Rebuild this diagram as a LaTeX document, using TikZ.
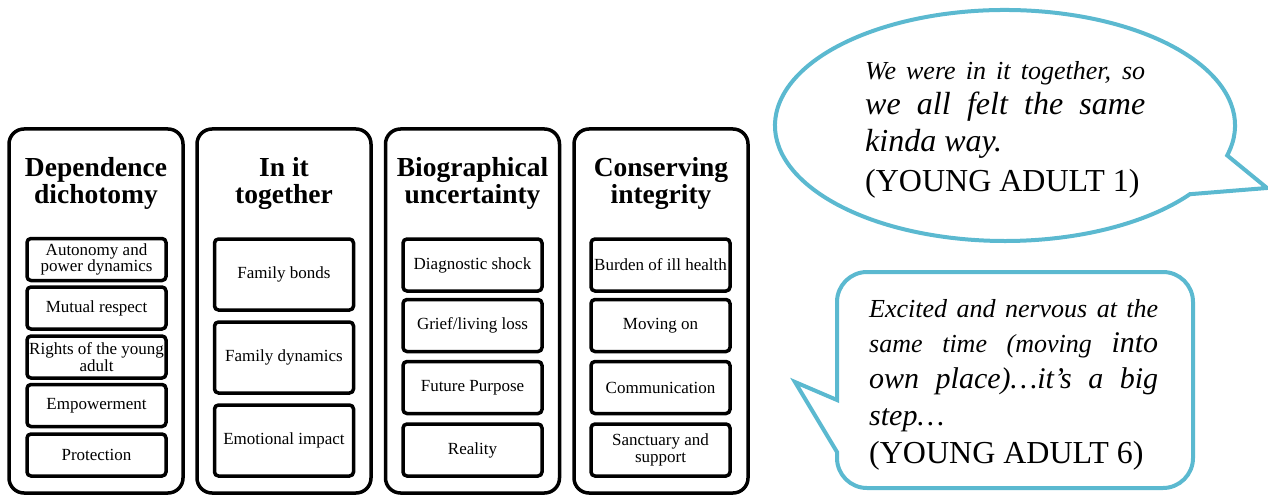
\documentclass[tikz,border=0pt]{standalone}
\usepackage{fontspec}
\newfontfamily\qfont{Liberation Serif}
\definecolor{callout}{RGB}{91,185,208}
\tikzset{
  outerbox/.style={draw, line width=3.5pt, rounded corners=15pt, minimum width=174pt, minimum height=364pt, inner sep=0pt},
  innerbox/.style={draw, line width=3.5pt, rounded corners=4pt, minimum width=139pt, inner sep=0pt, align=center, font=\qfont\fontsize{17}{16.5}\selectfont},
  titletext/.style={align=center, inner sep=0pt, font=\qfont\fontsize{27.5}{27}\selectfont\bfseries},
  bubble/.style={draw=callout, line width=4pt, fill=white, line join=miter},
  qline/.style={anchor=base west, inner sep=0pt},
  qit/.style={font=\qfont\itshape\fontsize{#1}{#1}\selectfont},
  qup/.style={font=\qfont\fontsize{#1}{#1}\selectfont},
}
\begin{document}
\begin{tikzpicture}[x=1pt,y=1pt]
\useasboundingbox (0,0) rectangle (1268,-497);
% columns
\node[outerbox] (c1) at (96,-311) {};
\node[outerbox] (c2) at (284,-311) {};
\node[outerbox] (c3) at (472.5,-311) {};
\node[outerbox] (c4) at (661,-311) {};
% titles
\node[titletext] (t1) at (96,-183) {Dependence\\dichotomy};
\node[titletext] (t2) at (284,-183) {In it\\together};
\node[titletext] (t3) at (472.5,-183) {Biographical\\uncertainty};
\node[titletext] (t4) at (661,-183) {Conserving\\integrity};
% column 1
\node[innerbox, minimum height=42pt] (a1) at (96.5,-259.5) {Autonomy and\\power dynamics};
\node[innerbox, minimum height=42pt] (a2) at (96.5,-308) {Mutual respect};
\node[innerbox, minimum height=42pt] (a3) at (96.5,-357) {Rights of the young\\adult};
\node[innerbox, minimum height=42pt] (a4) at (96.5,-405.5) {Empowerment};
\node[innerbox, minimum height=42pt] (a5) at (96.5,-455) {Protection};
% column 2
\node[innerbox, minimum height=71pt] (b1) at (284,-274.5) {Family bonds};
\node[innerbox, minimum height=71pt] (b2) at (284,-357.5) {Family dynamics};
\node[innerbox, minimum height=71pt] (b3) at (284,-440.5) {Emotional impact};
% column 3
\node[innerbox, minimum height=52pt] (d1) at (472.5,-265) {Diagnostic shock};
\node[innerbox, minimum height=52pt] (d2) at (472.5,-325.5) {Grief/living loss};
\node[innerbox, minimum height=52pt] (d3) at (472.5,-387.5) {Future Purpose};
\node[innerbox, minimum height=52pt] (d4) at (472.5,-450) {Reality};
% column 4
\node[innerbox, minimum height=52pt] (e1) at (660.5,-265) {Burden of ill health};
\node[innerbox, minimum height=52pt] (e2) at (660.5,-325.5) {Moving on};
\node[innerbox, minimum height=52pt] (e3) at (660.5,-387.5) {Communication};
\node[innerbox, minimum height=52pt] (e4) at (660.5,-450) {Sanctuary and\\support};
% callout 1 (ellipse)
\coordinate (o1) at (1005,-125.5);
\coordinate (tip1) at (1267,-188);
\draw[bubble] (o1) ++(-15:230pt and 115.5pt) arc[start angle=-15, end angle=323.5, x radius=230pt, y radius=115.5pt] -- (tip1) -- cycle;
\node[qline, qit=26] (q1a) at (865,-80) {\makebox[280pt][s]{We were in it together, so}};
\node[qline, qit=32] (q1b) at (865,-115) {\makebox[280pt][s]{we all felt the same}};
\node[qline, qit=32] (q1c) at (865,-152) {kinda way.};
\node[qline, qup=32] (q1d) at (865,-192) {(YOUNG ADULT 1)};
% callout 2 (rounded rectangle)
\coordinate (tip2) at (795,-382);
\draw[bubble] (837,-400) -- (837,-302) arc[start angle=180, end angle=90, radius=30pt]
  -- (1163,-272) arc[start angle=90, end angle=0, radius=30pt]
  -- (1193,-458) arc[start angle=0, end angle=-90, radius=30pt]
  -- (867,-488) arc[start angle=270, end angle=180, radius=30pt]
  -- (837,-452) -- (tip2) -- cycle;
\node[qline, qit=26] (q2a) at (869,-317) {\makebox[289pt][s]{Excited and nervous at the}};
\node[qline, qit=26] (q2b) at (869,-352) {\makebox[289pt][s]{same time (moving {\fontsize{30}{30}\selectfont into}}};
\node[qline, qit=30] (q2c) at (869,-388) {\makebox[289pt][s]{own place)…it’s a big}};
\node[qline, qit=30] (q2d) at (869,-425) {step…};
\node[qline, qup=32] (q2e) at (869,-463) {(YOUNG ADULT 6)};
\end{tikzpicture}
\end{document}
